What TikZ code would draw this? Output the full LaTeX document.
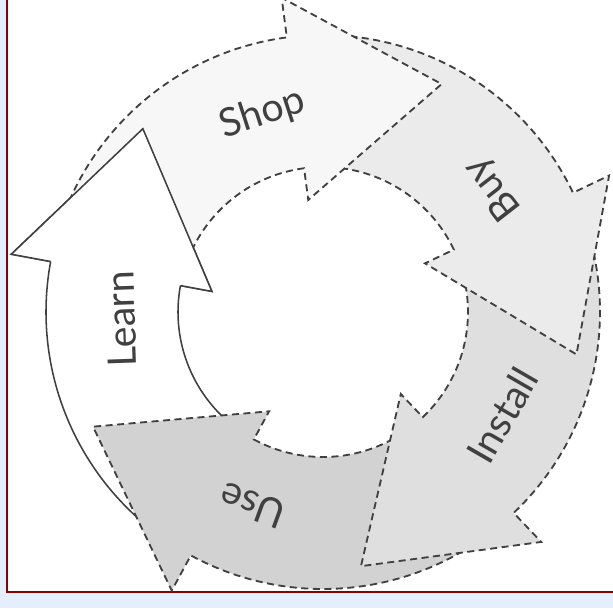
\documentclass[tikz,border=0pt]{standalone}
\usepackage{fontspec}
\setmainfont{Lato}
\definecolor{pagebg}{HTML}{E4EEFC}
\definecolor{framered}{HTML}{8B0000}
\definecolor{edgegray}{HTML}{404040}
\definecolor{arrowshop}{HTML}{F7F7F7}
\definecolor{arrowbuy}{HTML}{EBEBEB}
\definecolor{arrowinstall}{HTML}{DFDFDF}
\definecolor{arrowuse}{HTML}{D2D2D2}
\tikzset{
  cyclearrow/.style={draw=edgegray, line width=1.3pt, dash pattern=on 5pt off 3.2pt},
  learnarrow/.style={draw=edgegray, line width=1.1pt, fill=white},
  steplabel/.style={font=\fontsize{28}{30}\selectfont, text=edgegray}
}

\begin{document}
\begin{tikzpicture}[x=0.025cm, y=0.025cm]
  \useasboundingbox (-323,-296) rectangle (290,312);
  \clip (-323,-296) rectangle (290,312);
  % page and frame
  \fill[pagebg] (-323,-296) rectangle (290,312);
  \draw[framered, fill=white, line width=1.5pt] (-316,-280) rectangle (330,340);
  % ring arrows: head base angle / fill / look
  \foreach \a/\col/\sty [evaluate=\a as \tail using \a+66,
                         evaluate=\a as \tip using \a-35] in {
      169.5/white/learnarrow, -118.5/arrowuse/cyclearrow,
      -46.5/arrowinstall/cyclearrow, 25.5/arrowbuy/cyclearrow,
      97.5/arrowshop/cyclearrow}
    \path[\sty, fill=\col] (\tail:277) arc[start angle=\tail, end angle=\a, radius=277]
      -- (\a:317) -- (\tip:257) -- (\a:113) -- (\a:145)
      arc[start angle=\a, end angle=\tail, radius=145] -- cycle;
  % learn head again, over the shop tail
  \path[learnarrow] (169.5:145) -- (169.5:113) -- (134.5:257) -- (169.5:317) -- (169.5:277);
  % labels
  \node[steplabel, rotate=18] (shop) at (107:207) {Shop};
  \node[steplabel, rotate=128] (buy) at (36:210) {Buy};
  \node[steplabel, rotate=60] (install) at (-30:207) {Install};
  \node[steplabel, rotate=160] (use) at (-110:206) {Use};
  \node[steplabel, rotate=92] (learn) at (182:202) {Learn};
\end{tikzpicture}
\end{document}
